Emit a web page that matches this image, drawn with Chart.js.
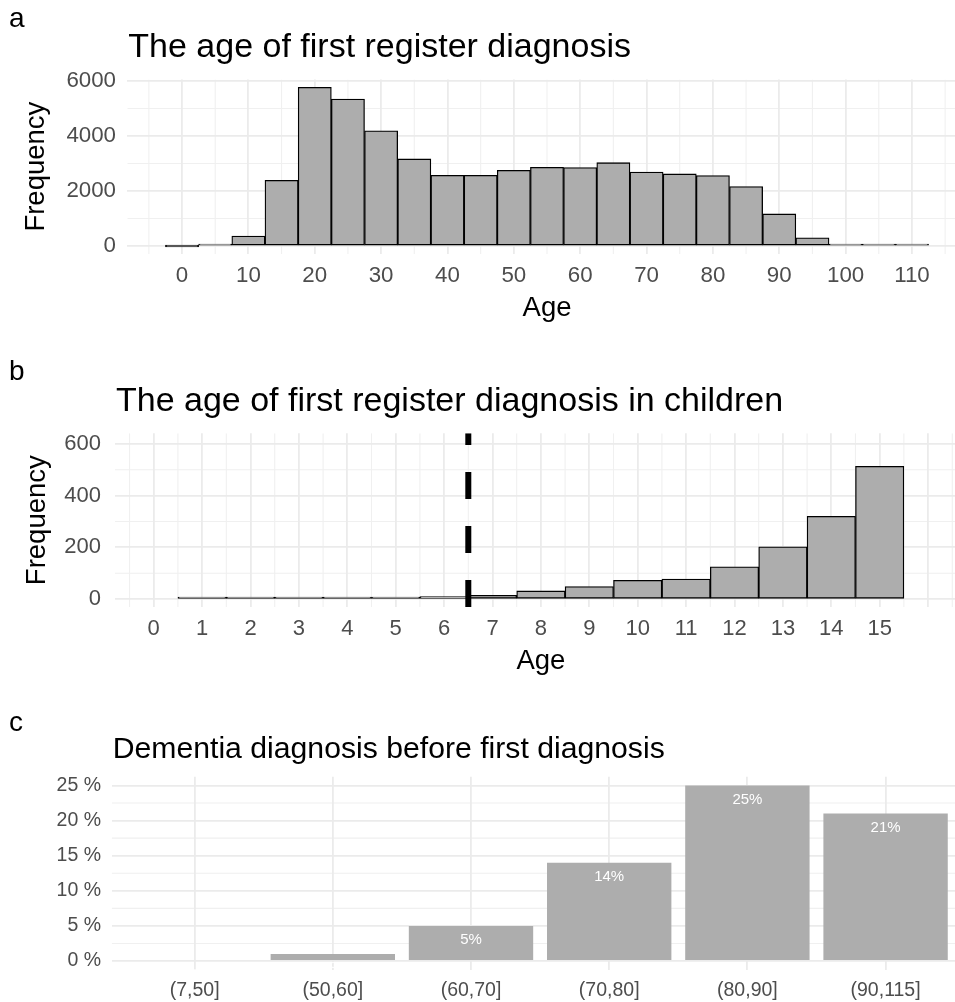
<!DOCTYPE html>
<html>
<head>
<meta charset="utf-8">
<script src="https://cdn.jsdelivr.net/npm/chart.js@4/dist/chart.umd.min.js"></script>
<style>
  html, body { margin: 0; padding: 0; background: #fff; overflow: hidden; }
  #page { position: relative; width: 955px; height: 1002px; overflow: hidden; background: #fff; }
  #page canvas { position: absolute; left: 0; }
</style>
</head>
<body>
<div id="page">
  <canvas id="histAll" width="970" height="330" style="top:0px"></canvas>
  <canvas id="histChild" width="970" height="340" style="top:340px"></canvas>
  <canvas id="dementia" width="970" height="322" style="top:680px"></canvas>
</div>
<script>
// ---- a: age at first register diagnosis, 5-year bins (bin centres) ----
const ageBinCentres = [0, 5, 10, 15, 20, 25, 30, 35, 40, 45, 50, 55, 60, 65, 70, 75, 80, 85, 90, 95, 100, 105, 110];
const ageCounts     = [0, 36, 360, 2390, 5770, 5345, 4190, 3165, 2570, 2570, 2750, 2860, 2850, 3030, 2690, 2620, 2560, 2160, 1165, 300, 35, 3, 3];
const ageTicks      = [0, 10, 20, 30, 40, 50, 60, 70, 80, 90, 100, 110];
const ageCountTicks = [0, 2000, 4000, 6000];

// ---- b: age at first register diagnosis in children, 1-year bins ----
const childAges          = [1, 2, 3, 4, 5, 6, 7, 8, 9, 10, 11, 12, 13, 14, 15];
const childCounts        = [8, 3, 1, 4, 5, 10, 15, 32, 49, 73, 78, 125, 202, 320, 513];
const childAgeTicks      = [0, 1, 2, 3, 4, 5, 6, 7, 8, 9, 10, 11, 12, 13, 14, 15, 16];
const childAgeTickLabels = ['0', '1', '2', '3', '4', '5', '6', '7', '8', '9', '10', '11', '12', '13', '14', '15', ''];
const childCountTicks    = [0, 200, 400, 600];
const childCutoffAge     = 6.5;

// ---- c: dementia diagnosis before first diagnosis, by age group ----
const dementiaGroups = ['(7,50]', '(50,60]', '(60,70]', '(70,80]', '(80,90]', '(90,115]'];
const dementiaPct    = [0, 1, 5, 14, 25, 21];
const pctTicks       = [0, 5, 10, 15, 20, 25];

// ---- shared styling ----
const FONT = "'Liberation Sans', Arial, Helvetica, sans-serif";
Chart.defaults.font.family = FONT;
const TICK_COLOR = '#4d4d4d';
const GRID_MAJOR = '#ebebeb';
const GRID_MINOR = '#f0f0f0';
const BAR_FILL = '#adadad';

// minor breaks sit half-way between the major ones (and half a step outside)
function halfSteps(breaks) {
  const step = breaks[1] - breaks[0];
  return [breaks[0] - step / 2, ...breaks.map(b => b + step / 2)];
}
function fixedTicks(values) {
  return scale => { scale.ticks = values.map(v => ({ value: v })); };
}
function clipToArea(ctx, a) {
  ctx.beginPath();
  ctx.rect(a.left, a.top, a.right - a.left, a.bottom - a.top);
  ctx.clip();
}

const minorGrid = {
  id: 'minorGrid',
  beforeDraw(chart, args, o) {
    const { ctx, chartArea: a, scales } = chart;
    ctx.save();
    clipToArea(ctx, a);
    ctx.strokeStyle = o.color || GRID_MINOR;
    ctx.lineWidth = o.width || 1.1;
    ctx.beginPath();
    (o.x || []).forEach(v => {
      const p = scales.x.getPixelForValue(v);
      ctx.moveTo(p, a.top); ctx.lineTo(p, a.bottom);
    });
    (o.y || []).forEach(v => {
      const p = scales.y.getPixelForValue(v);
      ctx.moveTo(a.left, p); ctx.lineTo(a.right, p);
    });
    ctx.stroke();
    ctx.restore();
  }
};

const panelText = {
  id: 'panelText',
  afterDraw(chart, args, o) {
    const ctx = chart.ctx;
    ctx.save();
    ctx.fillStyle = '#000';
    ctx.textAlign = 'left';
    ctx.textBaseline = 'alphabetic';
    ctx.font = `${o.letterSize}px ${FONT}`;
    ctx.fillText(o.letter, o.letterX, o.letterY);
    ctx.font = `${o.titleSize}px ${FONT}`;
    ctx.fillText(o.title, chart.chartArea.left + 1, o.titleY);
    ctx.restore();
  }
};

const cutoffLine = {
  id: 'cutoffLine',
  afterDatasetsDraw(chart, args, o) {
    const { ctx, chartArea: a } = chart;
    const x = chart.scales.x.getPixelForValue(o.value);
    ctx.save();
    clipToArea(ctx, a);
    ctx.strokeStyle = '#000';
    ctx.lineWidth = o.width;
    ctx.lineCap = 'butt';
    ctx.setLineDash(o.dash);
    ctx.beginPath();
    ctx.moveTo(x, a.bottom);
    ctx.lineTo(x, a.top);
    ctx.stroke();
    ctx.restore();
  }
};

// value labels inside the top of each bar, clipped to the panel
const barLabels = {
  id: 'barLabels',
  afterDatasetsDraw(chart, args, o) {
    const ctx = chart.ctx;
    const bars = chart.getDatasetMeta(0).data;
    ctx.save();
    clipToArea(ctx, chart.chartArea);
    ctx.fillStyle = o.color;
    ctx.font = `${o.size}px ${FONT}`;
    ctx.textAlign = 'center';
    ctx.textBaseline = 'middle';
    bars.forEach((bar, i) => {
      ctx.fillText(`${o.values[i]}%`, bar.x, bar.y + o.offset);
    });
    ctx.restore();
  }
};

function gridOpts() {
  return { color: GRID_MAJOR, lineWidth: 1.8, drawTicks: false, offset: false };
}
function fontOf(size) { return { family: FONT, size: size }; }

const baseOptions = {
  responsive: false,
  animation: false,
  devicePixelRatio: 1,
  events: []
};

// ---- a ----
new Chart(document.getElementById('histAll'), {
  type: 'bar',
  data: {
    datasets: [{
      data: ageBinCentres.map((x, i) => ({ x: x, y: ageCounts[i] })),
      backgroundColor: BAR_FILL,
      borderColor: '#000',
      borderWidth: 1.3,
      borderSkipped: false,
      barPercentage: 1,
      categoryPercentage: 1,
      minBarLength: 2
    }]
  },
  options: Object.assign({}, baseOptions, {
    layout: { padding: { top: 79.4, right: 3.3, bottom: 0, left: 0 } },
    plugins: {
      legend: { display: false },
      tooltip: { enabled: false },
      minorGrid: { x: halfSteps(ageTicks), y: halfSteps(ageCountTicks) },
      panelText: { letter: 'a', letterX: 9, letterY: 27, letterSize: 28,
                   title: 'The age of first register diagnosis', titleSize: 34, titleY: 56.7 }
    },
    scales: {
      x: {
        type: 'linear', bounds: 'data', min: -8.25, max: 118.25, offset: false,
        afterBuildTicks: fixedTicks(ageTicks),
        afterFit: s => { s.height = 76.1; },
        grid: gridOpts(),
        border: { display: false },
        ticks: { color: TICK_COLOR, font: fontOf(22.3), padding: 8.6, maxRotation: 0, autoSkip: false,
                 callback: v => String(v) },
        title: { display: true, text: 'Age', color: '#000', font: fontOf(27.5), padding: { top: 0, bottom: 5.5 } }
      },
      y: {
        type: 'linear', bounds: 'data', min: -288, max: 6058,
        afterBuildTicks: fixedTicks(ageCountTicks),
        afterFit: s => { s.width = 127.3; },
        grid: gridOpts(),
        border: { display: false },
        ticks: { color: TICK_COLOR, font: fontOf(22.3), padding: 11.3, callback: v => String(v) },
        title: { display: true, text: 'Frequency', color: '#000', font: fontOf(27.5), padding: { top: 20.2, bottom: 0 } }
      }
    }
  }),
  plugins: [minorGrid, panelText]
});

// ---- b ----
new Chart(document.getElementById('histChild'), {
  type: 'bar',
  data: {
    datasets: [{
      data: childAges.map((x, i) => ({ x: x, y: childCounts[i] })),
      backgroundColor: BAR_FILL,
      borderColor: '#000',
      borderWidth: 1.3,
      borderSkipped: false,
      barPercentage: 1,
      categoryPercentage: 1,
      minBarLength: 2
    }]
  },
  options: Object.assign({}, baseOptions, {
    layout: { padding: { top: 93.3, right: 3.2, bottom: 0, left: 0 } },
    plugins: {
      legend: { display: false },
      tooltip: { enabled: false },
      minorGrid: { x: halfSteps(childAgeTicks), y: halfSteps(childCountTicks) },
      cutoffLine: { value: childCutoffAge, width: 6, dash: [27, 27] },
      panelText: { letter: 'b', letterX: 9, letterY: 40, letterSize: 28,
                   title: 'The age of first register diagnosis in children', titleSize: 34, titleY: 70.7 }
    },
    scales: {
      x: {
        type: 'linear', bounds: 'data', min: -0.8, max: 16.8, offset: false,
        afterBuildTicks: fixedTicks(childAgeTicks),
        afterFit: s => { s.height = 72.9; },
        grid: gridOpts(),
        border: { display: false },
        ticks: { color: TICK_COLOR, font: fontOf(22), padding: 9, maxRotation: 0, autoSkip: false,
                 callback: (v, i) => childAgeTickLabels[i] },
        title: { display: true, text: 'Age', color: '#000', font: fontOf(27.5), padding: { top: 0, bottom: 2.5 } }
      },
      y: {
        type: 'linear', bounds: 'data', min: -30.5, max: 640.5,
        afterBuildTicks: fixedTicks(childCountTicks),
        afterFit: s => { s.width = 115; },
        grid: gridOpts(),
        border: { display: false },
        ticks: { color: TICK_COLOR, font: fontOf(22), padding: 14, callback: v => String(v) },
        title: { display: true, text: 'Frequency', color: '#000', font: fontOf(27.5), padding: { top: 20.5, bottom: 0 } }
      }
    }
  }),
  plugins: [minorGrid, cutoffLine, panelText]
});

// ---- c ----
new Chart(document.getElementById('dementia'), {
  type: 'bar',
  data: {
    datasets: [{
      data: dementiaGroups.map((g, i) => ({ x: i, y: dementiaPct[i] })),
      backgroundColor: BAR_FILL,
      borderWidth: 0,
      barPercentage: 0.9,
      categoryPercentage: 1
    }]
  },
  options: Object.assign({}, baseOptions, {
    layout: { padding: { top: 96.7, right: 1.5, bottom: 0, left: 0 } },
    plugins: {
      legend: { display: false },
      tooltip: { enabled: false },
      minorGrid: { y: halfSteps(pctTicks) },
      barLabels: { values: dementiaPct, color: '#ffffff', size: 15, offset: 14 },
      panelText: { letter: 'c', letterX: 9, letterY: 51, letterSize: 28,
                   title: 'Dementia diagnosis before first diagnosis', titleSize: 30.2, titleY: 78.3 }
    },
    scales: {
      x: {
        type: 'linear', bounds: 'data', min: -0.6, max: dementiaGroups.length - 0.4, offset: false,
        afterBuildTicks: fixedTicks(dementiaGroups.map((g, i) => i)),
        afterFit: s => { s.height = 32.2; },
        grid: gridOpts(),
        border: { display: false },
        ticks: { color: TICK_COLOR, font: fontOf(19.5), padding: 9.5, maxRotation: 0, autoSkip: false,
                 callback: v => dementiaGroups[v] }
      },
      y: {
        type: 'linear', bounds: 'data', min: -1.25, max: 26.25,
        afterBuildTicks: fixedTicks(pctTicks),
        afterFit: s => { s.width = 111.7; },
        grid: gridOpts(),
        border: { display: false },
        ticks: { color: TICK_COLOR, font: fontOf(19.5), padding: 10.7, callback: v => `${v} %` }
      }
    }
  }),
  plugins: [minorGrid, barLabels, panelText]
});
</script>
</body>
</html>
